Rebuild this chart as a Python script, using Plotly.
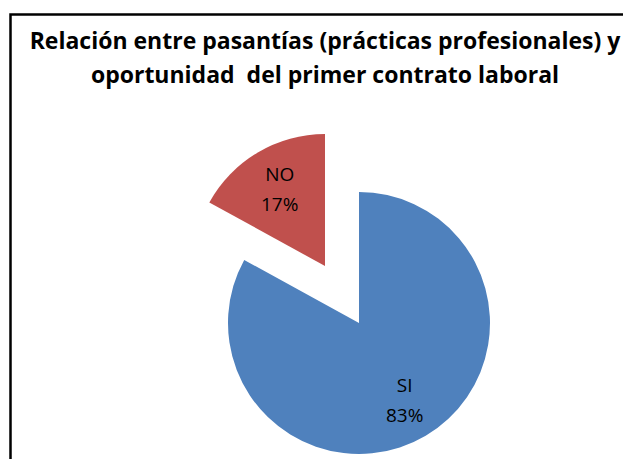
import math
import plotly.graph_objects as go

labels = ["SI", "NO"]
values = [83, 17]
colors = ["#4F81BD", "#C0504D"]
title_lines = ["Relación entre pasantías (prácticas profesionales) y",
               "oportunidad  del primer contrato laboral"]

# page body has an 8px margin; the figure fills the rest of the 631x459 window
W, H = 623, 451
FONT = "Open Sans"

# pie geometry (figure pixels): main pie and exploded slice
SI_C, SI_R = (351, 315), 131
NO_C, NO_R = (317, 258), 132


def dom(c, r):
    cx, cy = c
    return dict(x=[(cx - r) / W, (cx + r) / W], y=[1 - (cy + r) / H, 1 - (cy - r) / H])


fig = go.Figure()
fig.add_trace(go.Pie(
    labels=labels, values=values, sort=False, direction="clockwise", rotation=0,
    marker=dict(colors=[colors[0], "rgba(0,0,0,0)"], line=dict(width=0)),
    textinfo="none", domain=dom(SI_C, SI_R), showlegend=False, hoverinfo="label+percent",
))
fig.add_trace(go.Pie(
    labels=labels, values=values, sort=False, direction="clockwise", rotation=0,
    marker=dict(colors=["rgba(0,0,0,0)", colors[1]], line=dict(width=0)),
    textinfo="none", domain=dom(NO_C, NO_R), showlegend=False, hoverinfo="label+percent",
))

# data labels at ~0.68 r along each slice's mid-angle (clockwise from 12 o'clock)
total = sum(values)
annotations = []
cum = 0
for lab, v, (c, r) in zip(labels, values, [(SI_C, SI_R), (NO_C, NO_R)]):
    mid = (cum + v / 2) / total * 2 * math.pi
    cum += v
    px = c[0] + 0.68 * r * math.sin(mid)
    py = c[1] - 0.68 * r * math.cos(mid)
    pct = round(v / total * 100)
    annotations.append(dict(
        x=px / W, y=1 - py / H, xref="paper", yref="paper", showarrow=False,
        xanchor="center", yanchor="middle", align="center",
        text=f"<span style='font-size:19px'>{lab}<br>{pct}%</span>",
        font=dict(family=FONT, size=23, color="#000000"),
    ))

fig.update_layout(
    width=W, height=H, margin=dict(l=0, r=0, t=0, b=0),
    paper_bgcolor="white", plot_bgcolor="white",
    title=dict(text="<span style='font-size:23px'>" + "<br>".join(title_lines) + "</span>",
               font=dict(family=FONT, size=26, color="#000000", weight="bold"),
               x=317 / W, xanchor="center", y=1 - 41 / H, yanchor="top", yref="container"),
    annotations=annotations,
    shapes=[dict(type="rect", xref="paper", yref="paper",
                 x0=2.5 / W, x1=1.05, y0=-0.05, y1=1 - 6.5 / H,
                 line=dict(color="black", width=2.5), fillcolor="rgba(0,0,0,0)", layer="above")],
)

fig.write_html("out.html")
